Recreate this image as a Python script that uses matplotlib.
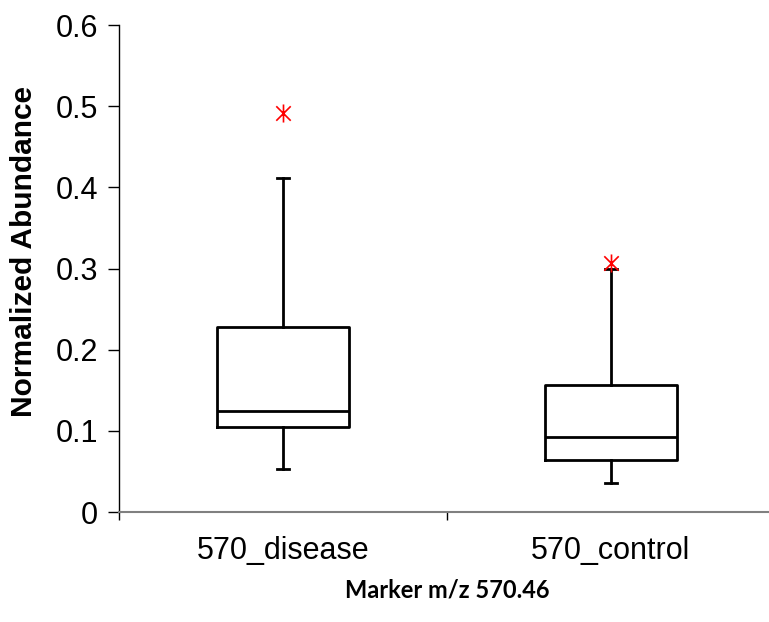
import matplotlib
matplotlib.use('Agg')
import matplotlib.pyplot as plt
from matplotlib.path import Path
from matplotlib.ticker import FixedLocator, FuncFormatter, NullFormatter

plt.rcParams['font.family'] = ['Liberation Sans', 'DejaVu Sans']

# summary statistics per group (box plot)
categories = ['570_disease', '570_control']
medians = [0.124, 0.093]
q1 = [0.105, 0.064]
q3 = [0.228, 0.157]
whisker_low = [0.053, 0.036]
whisker_high = [0.411, 0.299]
outliers = [[0.492], [0.307]]

stats = []
for i, name in enumerate(categories):
    stats.append({
        'label': name,
        'med': medians[i],
        'q1': q1[i],
        'q3': q3[i],
        'whislo': whisker_low[i],
        'whishi': whisker_high[i],
        'fliers': outliers[i],
    })

# asterisk: an x crossed by a vertical stroke
star = Path([(-0.8, -0.8), (0.8, 0.8), (-0.8, 0.8), (0.8, -0.8), (0, -1), (0, 1)],
            [Path.MOVETO, Path.LINETO, Path.MOVETO, Path.LINETO, Path.MOVETO, Path.LINETO])

fig = plt.figure(figsize=(7.69, 6.22), dpi=100)
ax = fig.add_axes([0.1547, 0.1768, 0.853, 0.783])

line = dict(color='black', linewidth=2.0)
ax.bxp(stats, positions=[1, 2], widths=0.40,
       boxprops=line, medianprops=line, whiskerprops=line,
       capprops=line, capwidths=0.037,
       flierprops=dict(marker=star, markersize=13, markeredgecolor='red',
                       markerfacecolor='none', markeredgewidth=1.2, linestyle='none'),
       manage_ticks=False)

ax.set_xlim(0.5, 2.5)
ax.set_ylim(0, 0.6)

# category boundaries get the tick marks, names sit between them
ax.xaxis.set_major_locator(FixedLocator([0.5, 1.5, 2.5]))
ax.xaxis.set_major_formatter(NullFormatter())
ax.xaxis.set_minor_locator(FixedLocator([1, 2]))
ax.set_xticklabels(categories, minor=True)
ax.tick_params(axis='x', which='major', direction='out', length=6, width=1.0, color='black')
ax.tick_params(axis='x', which='minor', length=0, pad=17, labelsize=22)

ax.yaxis.set_major_locator(FixedLocator([0, 0.1, 0.2, 0.3, 0.4, 0.5, 0.6]))
ax.yaxis.set_major_formatter(FuncFormatter(lambda v, p: f'{v:g}'))
ax.tick_params(axis='y', direction='out', length=8, width=1.0, labelsize=22, pad=7)

ax.spines['top'].set_visible(False)
ax.spines['right'].set_visible(False)
ax.spines['left'].set_color('black')
ax.spines['left'].set_linewidth(1.0)
ax.spines['bottom'].set_color('#808080')
ax.spines['bottom'].set_linewidth(1.5)

ax.set_ylabel('Normalized Abundance', fontsize=21.5, fontweight='bold')
ax.yaxis.set_label_coords(-0.123, 0.534)

fig.text(447 / 769, 1 - 590 / 622, 'Marker m/z 570.46', ha='center', va='center',
         fontsize=17, fontweight='bold', family=['Lato', 'DejaVu Sans'])

fig.savefig('out.png', dpi=100)
